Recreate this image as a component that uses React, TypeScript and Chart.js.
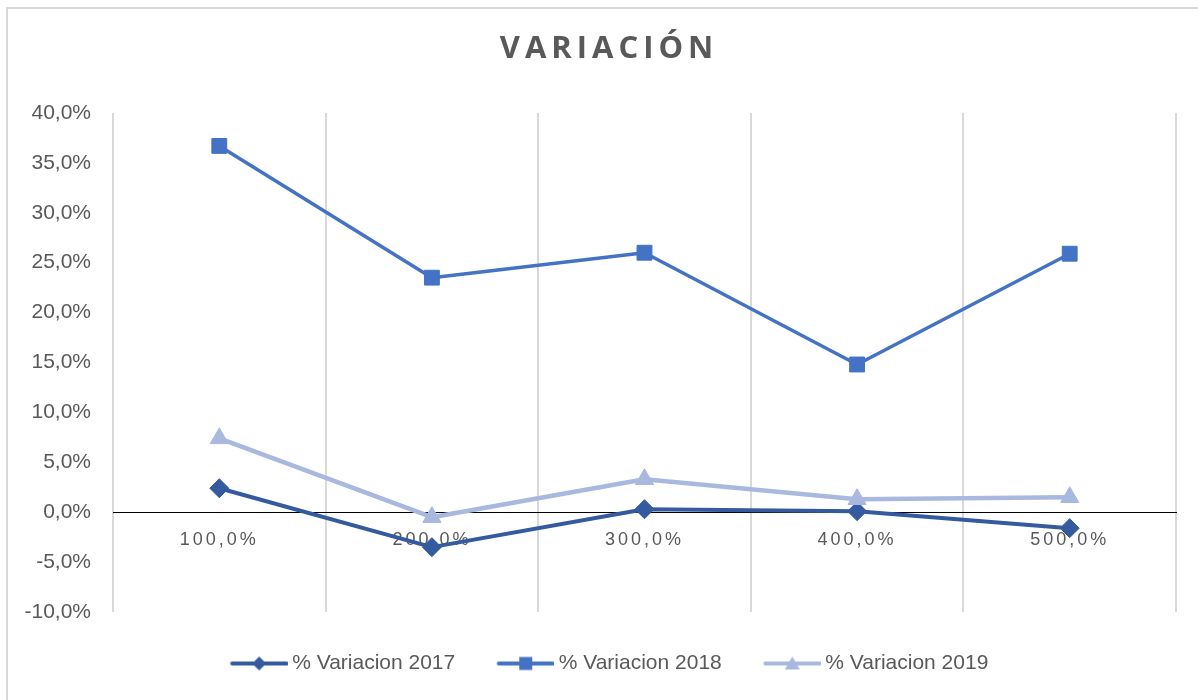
import React, { useEffect, useRef } from 'react';
import { Chart, registerables } from 'chart.js';

Chart.register(...registerables);

const categories = ['100,0%', '200,0%', '300,0%', '400,0%', '500,0%'];
const seriesNames = ['% Variacion 2017', '% Variacion 2018', '% Variacion 2019'];
const variacion2017 = [2.4, -3.5, 0.3, 0.1, -1.6];
const variacion2018 = [36.7, 23.5, 26.0, 14.8, 25.9];
const variacion2019 = [7.4, -0.5, 3.3, 1.3, 1.5];
const yMin = -10;
const yMax = 40;
const yStep = 5;
const chartTitle = 'VARIACIÓN';

const colors = ['#345B9F', '#4472C4', '#A9B8DF'];
const markerStyles = ['rectRot', 'rect', 'triangle'];
const markerRadii = [9.5, 10.5, 10.5];
const lineWidths = [4, 3.5, 4.5];
const textColor = '#595959';

function makeLegendIcon(color: string, style: string): HTMLCanvasElement {
  const c = document.createElement('canvas');
  c.width = 64;
  c.height = 20;
  const ctx = c.getContext('2d')!;
  ctx.strokeStyle = color;
  ctx.lineWidth = 4;
  ctx.lineCap = 'round';
  ctx.beginPath();
  ctx.moveTo(8.5, 10);
  ctx.lineTo(62.5, 10);
  ctx.stroke();
  ctx.fillStyle = color;
  const cx = 35.5;
  const cy = 10;
  ctx.beginPath();
  if (style === 'rectRot') {
    const r = 7;
    ctx.moveTo(cx - r, cy);
    ctx.lineTo(cx, cy - r);
    ctx.lineTo(cx + r, cy);
    ctx.lineTo(cx, cy + r);
    ctx.closePath();
  } else if (style === 'rect') {
    ctx.rect(cx - 6.5, cy - 6.5, 13, 13);
  } else {
    ctx.moveTo(cx, cy - 7);
    ctx.lineTo(cx + 7.5, cy + 6);
    ctx.lineTo(cx - 7.5, cy + 6);
    ctx.closePath();
  }
  ctx.fill();
  return c;
}

const letterSpacingPlugin = {
  id: 'letterSpacingPlugin',
  beforeDraw(chart: any) {
    const ctx = chart.ctx;
    const tb = chart.titleBlock;
    if (tb && !tb.__ls) {
      const orig = tb.draw.bind(tb);
      tb.draw = (...args: any[]) => {
        ctx.save();
        ctx.letterSpacing = '5px';
        orig(...args);
        ctx.restore();
      };
      tb.__ls = true;
    }
    const xs = chart.scales.x;
    if (xs && !xs.__ls) {
      const orig = xs.drawLabels.bind(xs);
      xs.drawLabels = (area: any) => {
        ctx.save();
        ctx.letterSpacing = '3px';
        orig(area);
        ctx.restore();
      };
      xs.__ls = true;
    }
    const ys = chart.scales.y;
    if (ys && !ys.__ls) {
      ys._computeLabelArea = () => ({ top: 0, left: 0, bottom: chart.height, right: ys.right });
      ys.__ls = true;
    }
  },
};

export default function App() {
  const canvasRef = useRef<HTMLCanvasElement | null>(null);

  useEffect(() => {
    document.body.style.margin = '0';
    document.body.style.overflow = 'hidden';
    const canvas = canvasRef.current;
    if (!canvas) return;
    const seriesValues = [variacion2017, variacion2018, variacion2019];
    const icons = seriesNames.map((_, i) => makeLegendIcon(colors[i], markerStyles[i]));
    const chart = new Chart(canvas, {
      type: 'line',
      data: {
        labels: categories,
        datasets: seriesNames.map((name, i) => ({
          label: name,
          data: seriesValues[i],
          borderColor: colors[i],
          backgroundColor: colors[i],
          borderWidth: lineWidths[i],
          borderJoinStyle: 'round',
          pointStyle: markerStyles[i] as any,
          pointRadius: markerRadii[i],
          pointHoverRadius: markerRadii[i],
          pointBorderWidth: 1,
          pointBackgroundColor: colors[i],
          pointBorderColor: colors[i],
          tension: 0,
          fill: false,
          order: 2 - i,
        })),
      },
      options: {
        animation: false,
        responsive: false,
        devicePixelRatio: 1,
        layout: { padding: { left: 42, right: 22, top: 0, bottom: 16 } },
        plugins: {
          tooltip: { enabled: false },
          title: {
            display: true,
            text: chartTitle,
            color: textColor,
            font: { family: "'Open Sans', sans-serif", size: 31, weight: 'bold', lineHeight: 1.2 },
            padding: { top: 30.2, bottom: 45.6 },
          },
          legend: {
            display: true,
            position: 'bottom',
            labels: {
              usePointStyle: true,
              pointStyleWidth: 52,
              padding: 41,
              color: textColor,
              font: { family: "'Liberation Sans', sans-serif", size: 21 },
              sort: (a: any, b: any) => a.datasetIndex - b.datasetIndex,
              generateLabels: (c: any) =>
                c.data.datasets.map((ds: any, i: number) => ({
                  text: ds.label,
                  fillStyle: colors[i],
                  strokeStyle: colors[i],
                  lineWidth: 0,
                  pointStyle: icons[i],
                  hidden: false,
                  datasetIndex: i,
                  fontColor: textColor,
                })),
            },
          },
        },
        scales: {
          x: {
            type: 'category',
            position: { y: 0 } as any,
            offset: true,
            grid: { offset: true, color: '#d9d9d9', lineWidth: 2, drawTicks: false },
            border: { display: true, color: '#000000', width: 1 },
            ticks: {
              color: textColor,
              font: { family: "'Liberation Sans', sans-serif", size: 18 },
              padding: 17,
              maxRotation: 0,
              autoSkip: false,
            },
          },
          y: {
            min: yMin,
            max: yMax,
            grid: { display: false, drawTicks: false },
            border: { display: false },
            ticks: {
              stepSize: yStep,
              color: textColor,
              font: { family: "'Liberation Sans', sans-serif", size: 21 },
              padding: 22,
              callback: (v: any) => Number(v).toFixed(1).replace('.', ',') + '%',
            },
            afterFit: (s: any) => {
              s.width = 71;
            },
          },
        },
      },
      plugins: [letterSpacingPlugin],
    } as any);
    return () => chart.destroy();
  }, []);

  return (
    <div style={{ position: 'relative', width: 1198, height: 700, overflow: 'hidden', background: '#ffffff' }}>
      <div
        style={{
          position: 'absolute',
          left: 6,
          top: 7,
          width: 1192,
          height: 693,
          boxSizing: 'border-box',
          borderTop: '2px solid #d9d9d9',
          borderLeft: '2px solid #d9d9d9',
        }}
      />
      <canvas
        ref={canvasRef}
        width={1198}
        height={700}
        style={{ position: 'absolute', left: 0, top: 0, width: 1198, height: 700, display: 'block' }}
      />
    </div>
  );
}
